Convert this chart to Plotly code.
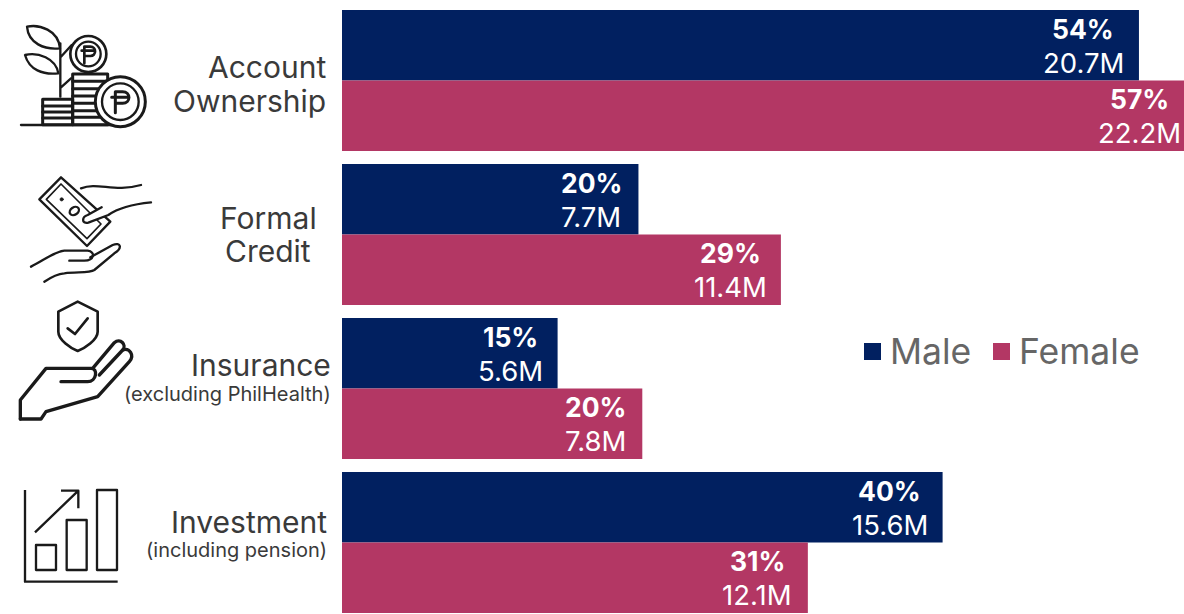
import base64
import plotly.graph_objects as go

categories = ["Account Ownership", "Formal Credit", "Insurance", "Investment"]
male_millions = [20.7, 7.7, 5.6, 15.6]
female_millions = [22.2, 11.4, 7.8, 12.1]
male_percent = [54, 20, 15, 40]
female_percent = [57, 29, 20, 31]
label_titles = [["Account", "Ownership"], ["Formal", "Credit"], ["Insurance"], ["Investment"]]
label_notes = ["", "", "(excluding PhilHealth)", "(including pension)"]
series_names = ["Male", "Female"]

NAVY = "#012060"
ROSE = "#b33764"
FONT = "Inter"
W, H, LEFT = 1184, 614, 342
XMAX = 21.87

icons = """<svg xmlns="http://www.w3.org/2000/svg" width="3552" height="1842" viewBox="0 0 3552 1842">
<g fill="none" stroke="#1a1a1a" stroke-width="7" stroke-linejoin="round" stroke-linecap="round" transform="translate(3,0)">
<path d="M60,375 H385"/>
<path d="M178,290 V130 M180,170 L212,135 M180,262 L210,235"/>
<path d="M78,80 C115,72 172,90 177,145 C130,150 82,130 78,80Z"/>
<path d="M72,165 C110,155 165,175 172,220 C125,225 85,210 72,165Z"/>
<g stroke-width="9">
<rect x="125" y="298" width="90" height="76"/>
<path d="M125,318 H215 M125,336 H215 M125,354 H215"/>
<rect x="215" y="222" width="105" height="152"/>
<path d="M215,244 H320 M215,266 H320 M215,288 H320 M215,310 H320 M215,332 H320 M215,352 H320"/>
</g>
<circle cx="262" cy="162" r="54" fill="#fff" stroke-width="8"/>
<circle cx="262" cy="162" r="37"/>
<path d="M250,190 V140 H268 C287,140 287,168 268,168 H250 M242,152 H282" stroke-width="8"/>
<circle cx="358" cy="305" r="75" fill="#fff" stroke-width="9"/>
<circle cx="358" cy="305" r="55" stroke-width="7"/>
<path d="M343,338 V275 H365 C390,275 390,310 365,310 H343 M332,292 H384" stroke-width="9"/>

<path d="M180,532 L115,598 L258,738 L328,665 Z" fill="#fff"/>
<path d="M180,552 L136,598 L258,716 L300,672 Z" stroke-width="5"/>
<circle cx="182" cy="598" r="5" fill="#1a1a1a" stroke-width="2"/>
<ellipse cx="220" cy="633" rx="15" ry="11" transform="rotate(-35 220 633)"/>
<path d="M240,565 C290,545 340,578 420,555"/>
<path d="M450,607 C400,612 350,625 322,645 L262,668 C240,672 243,650 260,645 L302,622" fill="#fff"/>
<path d="M90,800 C130,780 160,755 190,752 H260 C285,755 280,782 250,782 H205"/>
<path d="M268,772 L335,735 C360,725 365,745 340,760 L280,810 C265,820 230,815 190,820 C165,822 145,835 130,845"/>

<g transform="translate(0,900)" stroke-width="10">
<path d="M230,5 L290,35 V95 C290,120 250,145 230,153 C210,145 172,120 172,95 V35 Z" stroke-width="8"/>
<path d="M200,85 L222,102 L260,55" stroke-width="8"/>
<path d="M58,357 V300 L135,205 H270 C292,205 287,245 260,245 H180"/>
<path d="M275,205 L340,128 C358,112 378,135 365,150 L295,225"/>
<path d="M365,150 C385,142 402,165 385,185 L290,290 L135,335 L120,357 H58"/>
</g>

<g transform="translate(0,900)" stroke-width="7" stroke-linecap="butt">
<path d="M72,570 V845 H350"/>
<rect x="105" y="735" width="60" height="75"/>
<rect x="197" y="660" width="60" height="150"/>
<rect x="288" y="570" width="60" height="240"/>
<path d="M102,697 L232,572 M180,572 H232 V625"/>
</g>
</g></svg>"""
icon_src = "data:image/svg+xml;base64," + base64.b64encode(icons.encode()).decode()

fig = go.Figure()
fig.add_bar(y=categories, x=male_millions, name=series_names[0], orientation="h",
            marker=dict(color=NAVY, line_width=0), showlegend=False)
fig.add_bar(y=categories, x=female_millions, name=series_names[1], orientation="h",
            marker=dict(color=ROSE, line_width=0), showlegend=False)

def text_width(s):
    return sum({"1": 12, ".": 7, "M": 23}.get(c, 17) for c in s)

annotations = []
for i, cat in enumerate(categories):
    for vals, pcts, dy_pct, dy_val in ((male_millions, male_percent, 51.5, 18),
                                       (female_millions, female_percent, -18.5, -52.5)):
        label = f"{vals[i]}M"
        clipped = vals[i] > XMAX
        shift = -45 if clipped else -15 - text_width(label) / 2
        x = min(vals[i], XMAX)
        annotations.append(dict(x=x, y=cat, xref="x", yref="y", xanchor="center", yanchor="middle",
                                xshift=shift, yshift=dy_pct, showarrow=False, text=f"<b>{pcts[i]}%</b>",
                                font=dict(family=FONT, size=26.5, color="#ffffff")))
        annotations.append(dict(x=x, y=cat, xref="x", yref="y", xanchor="center", yanchor="middle",
                                xshift=shift, yshift=dy_val, showarrow=False, text=label,
                                font=dict(family=FONT, size=27.5, color="#ffffff")))

# anchor, x shift from the bars' zero line, vertical shift of each title line, shift of note
label_layout = [("right", -14, [13.5, -20.5], None),
                ("center", -74, [16.5, -16.5], None),
                ("right", -9, [23.5], -5.5),
                ("right", -13, [21], -7)]
for i, cat in enumerate(categories):
    anchor, dx, dys, note_dy = label_layout[i]
    for line, dy in zip(label_titles[i], dys):
        annotations.append(dict(x=0, y=cat, xref="x", yref="y", xanchor=anchor, yanchor="middle",
                                xshift=dx, yshift=dy, showarrow=False, text=line,
                                font=dict(family=FONT, size=30, color="#3a3a3a")))
    if label_notes[i]:
        annotations.append(dict(x=0, y=cat, xref="x", yref="y", xanchor=anchor, yanchor="middle",
                                xshift=dx, yshift=note_dy, showarrow=False, text=label_notes[i],
                                font=dict(family=FONT, size=20, color="#3a3a3a")))

def px(x):
    return (x - LEFT) / (W - LEFT)

def py(y):
    return 1 - y / H

shapes = []
for name, color, sx0, sx1, tx in ((series_names[0], NAVY, 864, 881, 888), (series_names[1], ROSE, 993, 1010, 1017)):
    shapes.append(dict(type="rect", xref="paper", yref="paper", x0=px(sx0), x1=px(sx1),
                       y0=py(360), y1=py(343), fillcolor=color, line_width=0))
    annotations.append(dict(x=px(tx), y=py(351), xref="paper", yref="paper", xanchor="left",
                            yanchor="middle", showarrow=False, text=name,
                            font=dict(family=FONT, size=35.5, color="#666666")))

fig.update_layout(
    width=W, height=H, autosize=False,
    margin=dict(l=LEFT, r=0, t=0, b=0),
    paper_bgcolor="white", plot_bgcolor="white",
    barmode="group", bargap=0.084, bargroupgap=0,
    xaxis=dict(range=[0, XMAX], visible=False, fixedrange=True),
    yaxis=dict(type="category", range=[3.464, -0.5227], visible=False, fixedrange=True),
    annotations=annotations, shapes=shapes,
    images=[dict(source=icon_src, xref="paper", yref="paper", x=px(0), y=1,
                 sizex=W / (W - LEFT), sizey=1, xanchor="left", yanchor="top",
                 sizing="stretch", layer="below")],
    hovermode=False,
)
fig.write_html("out.html", config=dict(displayModeBar=False),
               post_script="document.body.style.margin='0';document.body.style.overflow='hidden';")
